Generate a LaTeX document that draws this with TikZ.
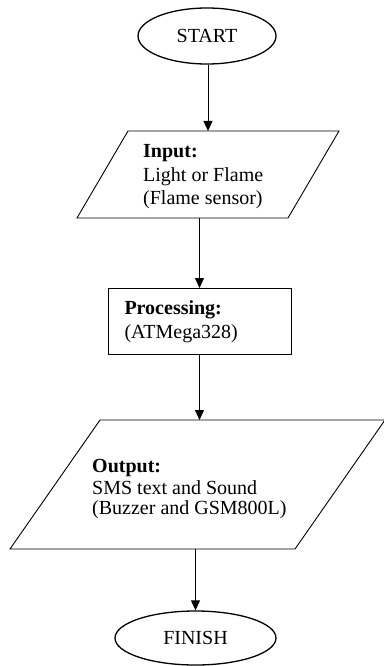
\documentclass[tikz,border=0pt]{standalone}
\usepackage{fontspec}
\setmainfont{Liberation Serif}
\usetikzlibrary{arrows.meta,shapes.geometric}
\begin{document}
\begin{tikzpicture}[x=1pt,y=-1pt,
  every node/.style={font=\fontsize{20}{23}\selectfont},
  term/.style={draw,ellipse,line width=1.3pt,inner sep=0pt},
  frame/.style={inner sep=0pt,outer sep=0pt},
  outline/.style={line width=0.9pt},
  txt/.style={anchor=base west,inner sep=0pt},
  arr/.style={line width=0.9pt,-{Triangle[length=10pt,width=9pt]}}]
\useasboundingbox (0,0) rectangle (383,666);
% START
\node[term,minimum width=138pt,minimum height=56pt] (start) at (207,36) {START};
% Input
\node[frame,minimum width=262pt,minimum height=87pt] (in) at (208,174.5) {};
\draw[outline] (in.south west) -- ([xshift=51pt]in.north west) -- (in.north east) -- ([xshift=-51pt]in.south east) -- cycle;
\node[txt] (in1) at (143,157.5) {\textbf{Input:}};
\node[txt] (in2) at (143,181) {Light or Flame};
\node[txt] (in3) at (143,204.5) {(Flame sensor)};
% Processing
\node[frame,draw,line width=0.9pt,minimum width=183pt,minimum height=66pt] (proc) at (199.5,321) {};
\node[txt] (pr1) at (124.3,314.3) {\textbf{Processing:}};
\node[txt] (pr2) at (124.3,338.3) {(ATMega328)};
% Output
\node[frame,minimum width=375pt,minimum height=129pt] (out) at (197.5,484.5) {};
\draw[outline] (out.south west) -- ([xshift=90pt]out.north west) -- (out.north east) -- ([xshift=-90pt]out.south east) -- cycle;
\node[txt] (ou1) at (92,472.7) {\textbf{Output:}};
\node[txt] (ou2) at (92,494) {SMS text and Sound};
\node[txt] (ou3) at (92,514) {(Buzzer and GSM800L)};
% FINISH
\node[term,minimum width=161pt,minimum height=54pt] (finish) at (195.5,638) {FINISH};
% connectors
\draw[arr] (start.south -| in.north) -- (in.north);
\draw[arr] (proc.north |- in.south) -- (proc.north);
\draw[arr] (proc.south) -- (proc.south |- out.north);
\draw[arr] (finish.north |- out.south) -- (finish.north);
\end{tikzpicture}
\end{document}
